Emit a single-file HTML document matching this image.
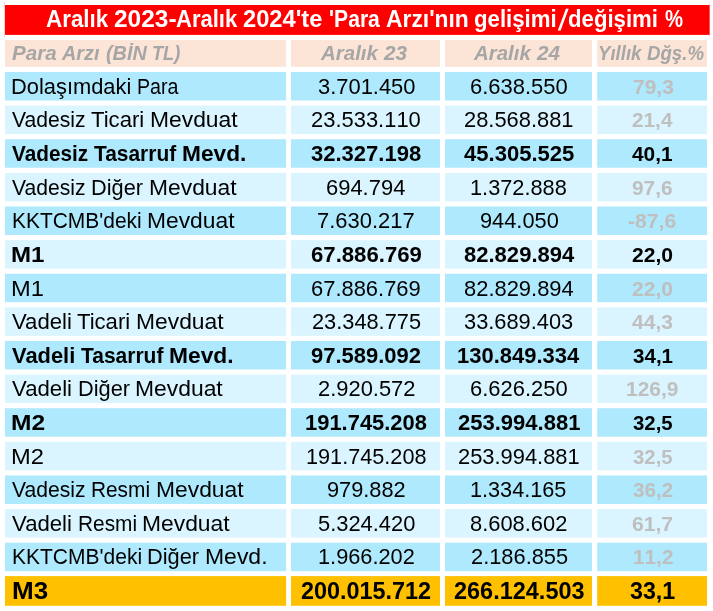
<!DOCTYPE html>
<html lang="tr"><head><meta charset="utf-8"><title>Para Arzı</title>
<style>
html,body{margin:0;padding:0;background:#fff;}
body{width:713px;height:611px;position:relative;overflow:hidden;font-family:"Liberation Sans",sans-serif;color:#000;}
svg{position:absolute;left:0;top:0;}
.t{position:absolute;white-space:pre;line-height:1;transform-origin:0 0;}
.b{font-weight:bold;}
.i{font-style:italic;}
.n{font-kerning:none;}
</style></head><body>

<svg width="713" height="611" viewBox="0 0 713 611">
<rect x="5.0" y="5.00" width="704.60" height="29.90" fill="#ff0000"/>
<rect x="5.0" y="40.00" width="281.10" height="26.80" fill="#fce4d6"/>
<rect x="291.0" y="40.00" width="149.00" height="26.80" fill="#fce4d6"/>
<rect x="445.0" y="40.00" width="147.00" height="26.80" fill="#fce4d6"/>
<rect x="597.2" y="40.00" width="109.80" height="26.80" fill="#fce4d6"/>
<rect x="5.0" y="72.00" width="281.10" height="28.50" fill="#aee9fd"/>
<rect x="291.0" y="72.00" width="149.00" height="28.50" fill="#aee9fd"/>
<rect x="445.0" y="72.00" width="147.00" height="28.50" fill="#aee9fd"/>
<rect x="597.2" y="72.00" width="109.80" height="28.50" fill="#aee9fd"/>
<rect x="5.0" y="105.62" width="281.10" height="28.50" fill="#daf5ff"/>
<rect x="291.0" y="105.62" width="149.00" height="28.50" fill="#daf5ff"/>
<rect x="445.0" y="105.62" width="147.00" height="28.50" fill="#daf5ff"/>
<rect x="597.2" y="105.62" width="109.80" height="28.50" fill="#daf5ff"/>
<rect x="5.0" y="139.24" width="281.10" height="28.50" fill="#aee9fd"/>
<rect x="291.0" y="139.24" width="149.00" height="28.50" fill="#aee9fd"/>
<rect x="445.0" y="139.24" width="147.00" height="28.50" fill="#aee9fd"/>
<rect x="597.2" y="139.24" width="109.80" height="28.50" fill="#aee9fd"/>
<rect x="5.0" y="172.86" width="281.10" height="28.50" fill="#daf5ff"/>
<rect x="291.0" y="172.86" width="149.00" height="28.50" fill="#daf5ff"/>
<rect x="445.0" y="172.86" width="147.00" height="28.50" fill="#daf5ff"/>
<rect x="597.2" y="172.86" width="109.80" height="28.50" fill="#daf5ff"/>
<rect x="5.0" y="206.48" width="281.10" height="28.50" fill="#aee9fd"/>
<rect x="291.0" y="206.48" width="149.00" height="28.50" fill="#aee9fd"/>
<rect x="445.0" y="206.48" width="147.00" height="28.50" fill="#aee9fd"/>
<rect x="597.2" y="206.48" width="109.80" height="28.50" fill="#aee9fd"/>
<rect x="5.0" y="240.10" width="281.10" height="28.50" fill="#daf5ff"/>
<rect x="291.0" y="240.10" width="149.00" height="28.50" fill="#daf5ff"/>
<rect x="445.0" y="240.10" width="147.00" height="28.50" fill="#daf5ff"/>
<rect x="597.2" y="240.10" width="109.80" height="28.50" fill="#daf5ff"/>
<rect x="5.0" y="273.72" width="281.10" height="28.50" fill="#aee9fd"/>
<rect x="291.0" y="273.72" width="149.00" height="28.50" fill="#aee9fd"/>
<rect x="445.0" y="273.72" width="147.00" height="28.50" fill="#aee9fd"/>
<rect x="597.2" y="273.72" width="109.80" height="28.50" fill="#aee9fd"/>
<rect x="5.0" y="307.34" width="281.10" height="28.50" fill="#daf5ff"/>
<rect x="291.0" y="307.34" width="149.00" height="28.50" fill="#daf5ff"/>
<rect x="445.0" y="307.34" width="147.00" height="28.50" fill="#daf5ff"/>
<rect x="597.2" y="307.34" width="109.80" height="28.50" fill="#daf5ff"/>
<rect x="5.0" y="340.96" width="281.10" height="28.50" fill="#aee9fd"/>
<rect x="291.0" y="340.96" width="149.00" height="28.50" fill="#aee9fd"/>
<rect x="445.0" y="340.96" width="147.00" height="28.50" fill="#aee9fd"/>
<rect x="597.2" y="340.96" width="109.80" height="28.50" fill="#aee9fd"/>
<rect x="5.0" y="374.58" width="281.10" height="28.50" fill="#daf5ff"/>
<rect x="291.0" y="374.58" width="149.00" height="28.50" fill="#daf5ff"/>
<rect x="445.0" y="374.58" width="147.00" height="28.50" fill="#daf5ff"/>
<rect x="597.2" y="374.58" width="109.80" height="28.50" fill="#daf5ff"/>
<rect x="5.0" y="408.20" width="281.10" height="28.50" fill="#aee9fd"/>
<rect x="291.0" y="408.20" width="149.00" height="28.50" fill="#aee9fd"/>
<rect x="445.0" y="408.20" width="147.00" height="28.50" fill="#aee9fd"/>
<rect x="597.2" y="408.20" width="109.80" height="28.50" fill="#aee9fd"/>
<rect x="5.0" y="441.82" width="281.10" height="28.50" fill="#daf5ff"/>
<rect x="291.0" y="441.82" width="149.00" height="28.50" fill="#daf5ff"/>
<rect x="445.0" y="441.82" width="147.00" height="28.50" fill="#daf5ff"/>
<rect x="597.2" y="441.82" width="109.80" height="28.50" fill="#daf5ff"/>
<rect x="5.0" y="475.44" width="281.10" height="28.50" fill="#aee9fd"/>
<rect x="291.0" y="475.44" width="149.00" height="28.50" fill="#aee9fd"/>
<rect x="445.0" y="475.44" width="147.00" height="28.50" fill="#aee9fd"/>
<rect x="597.2" y="475.44" width="109.80" height="28.50" fill="#aee9fd"/>
<rect x="5.0" y="509.06" width="281.10" height="28.50" fill="#daf5ff"/>
<rect x="291.0" y="509.06" width="149.00" height="28.50" fill="#daf5ff"/>
<rect x="445.0" y="509.06" width="147.00" height="28.50" fill="#daf5ff"/>
<rect x="597.2" y="509.06" width="109.80" height="28.50" fill="#daf5ff"/>
<rect x="5.0" y="542.68" width="281.10" height="28.50" fill="#aee9fd"/>
<rect x="291.0" y="542.68" width="149.00" height="28.50" fill="#aee9fd"/>
<rect x="445.0" y="542.68" width="147.00" height="28.50" fill="#aee9fd"/>
<rect x="597.2" y="542.68" width="109.80" height="28.50" fill="#aee9fd"/>
<rect x="5.0" y="576.10" width="281.10" height="29.70" fill="#ffc000"/>
<rect x="291.0" y="576.10" width="149.00" height="29.70" fill="#ffc000"/>
<rect x="445.0" y="576.10" width="147.00" height="29.70" fill="#ffc000"/>
<rect x="597.2" y="576.10" width="109.80" height="29.70" fill="#ffc000"/>
<rect x="4.3" y="2" width="0.6" height="35.5" fill="#ff0000" fill-opacity="0.3"/><rect x="709.5" y="2" width="0.5" height="35.5" fill="#ff0000" fill-opacity="0.25"/>
</svg>
<span class="t b" style="left:45.99px;top:8px;font-size:23.0px;color:#fff;transform:scaleX(0.9741)">Aralık </span>
<span class="t b" style="left:114.35px;top:8px;font-size:23.0px;color:#fff;transform:scaleX(1.0645)">2023-</span>
<span class="t b" style="left:175.60px;top:8px;font-size:23.0px;color:#fff;transform:scaleX(0.9567)">Aralık </span>
<span class="t b" style="left:243.47px;top:8px;font-size:23.0px;color:#fff;transform:scaleX(1.0290)">2024'te </span>
<span class="t b" style="left:329.17px;top:8px;font-size:23.0px;color:#fff;transform:scaleX(0.9194)">'Para </span>
<span class="t b" style="left:386.18px;top:8px;font-size:23.0px;color:#fff;transform:scaleX(0.9929)">Arzı'nın </span>
<span class="t b" style="left:474.18px;top:8px;font-size:23.0px;color:#fff;transform:scaleX(0.9655)">gelişimi</span>
<span class="t b" style="left:562.8px;top:6px;font-size:23px;color:#fff;transform:skewX(-12.4deg) scaleY(1.28)">/</span>
<span class="t b" style="left:568.39px;top:8px;font-size:23.0px;color:#fff;transform:scaleX(0.9642)">değişimi </span>
<span class="t b" style="left:665.08px;top:8px;font-size:23.0px;color:#fff;transform:scaleX(0.8829)">%</span>
<span class="t b i" style="left:11.91px;top:43px;font-size:20.5px;color:#a6a6a6;transform:scaleX(1.0031)">Para </span>
<span class="t b i" style="left:61.58px;top:43px;font-size:20.5px;color:#a6a6a6;transform:scaleX(0.9697)">Arzı </span>
<span class="t b i" style="left:105.63px;top:43px;font-size:20.5px;color:#a6a6a6;transform:scaleX(0.9661)">(BİN </span>
<span class="t b i" style="left:152.06px;top:43px;font-size:20.5px;color:#a6a6a6;transform:scaleX(0.8868)">TL)</span>
<span class="t b i" style="left:320.95px;top:43px;font-size:20.5px;color:#a6a6a6;transform:scaleX(0.9987)">Aralık </span>
<span class="t b i" style="left:384.20px;top:43px;font-size:20.5px;color:#a6a6a6;transform:scaleX(1.0117)">23</span>
<span class="t b i" style="left:473.95px;top:43px;font-size:20.5px;color:#a6a6a6;transform:scaleX(0.9958)">Aralık </span>
<span class="t b i" style="left:537.02px;top:43px;font-size:20.5px;color:#a6a6a6;transform:scaleX(1.0098)">24</span>
<span class="t b i" style="left:597.73px;top:43px;font-size:20.5px;color:#a6a6a6;transform:scaleX(0.9067)">Yıllık </span>
<span class="t b i" style="left:646.86px;top:43px;font-size:20.5px;color:#a6a6a6;transform:scaleX(0.9092)">Dğş.%</span>
<span class="t" style="left:11.40px;top:77px;font-size:21.5px;color:#000;transform:scaleX(1.0171)">Dolaşımdaki </span>
<span class="t" style="left:137.21px;top:77px;font-size:21.5px;color:#000;transform:scaleX(0.9141)">Para</span>
<span class="t n" style="left:317.52px;top:77px;font-size:21.5px;color:#000;transform:scaleX(1.0188)">3.701.450</span>
<span class="t n" style="left:470.18px;top:77px;font-size:21.5px;color:#000;transform:scaleX(1.0214)">6.638.550</span>
<span class="t b n" style="left:632.59px;top:77px;font-size:20.5px;color:#bfbfbf;transform:scaleX(1.0245)">79,3</span>
<span class="t" style="left:12.43px;top:110px;font-size:21.5px;color:#000;transform:scaleX(0.9820)">Vadesiz </span>
<span class="t" style="left:90.90px;top:110px;font-size:21.5px;color:#000;transform:scaleX(1.0280)">Ticari </span>
<span class="t" style="left:149.54px;top:110px;font-size:21.5px;color:#000;transform:scaleX(1.0625)">Mevduat</span>
<span class="t n" style="left:310.89px;top:110px;font-size:21.5px;color:#000;transform:scaleX(1.0204)">23.533.110</span>
<span class="t n" style="left:464.29px;top:110px;font-size:21.5px;color:#000;transform:scaleX(1.0176)">28.568.881</span>
<span class="t b n" style="left:632.07px;top:110px;font-size:20.5px;color:#bfbfbf;transform:scaleX(1.0138)">21,4</span>
<span class="t b" style="left:12.39px;top:144px;font-size:21.5px;color:#000;transform:scaleX(0.9654)">Vadesiz </span>
<span class="t b" style="left:93.92px;top:144px;font-size:21.5px;color:#000;transform:scaleX(0.9729)">Tasarruf </span>
<span class="t b" style="left:181.80px;top:144px;font-size:21.5px;color:#000;transform:scaleX(1.0568)">Mevd.</span>
<span class="t b n" style="left:310.87px;top:144px;font-size:21.5px;color:#000;transform:scaleX(1.0245)">32.327.198</span>
<span class="t b n" style="left:463.56px;top:144px;font-size:21.5px;color:#000;transform:scaleX(1.0259)">45.305.525</span>
<span class="t b n" style="left:632.44px;top:144px;font-size:20.5px;color:#000;transform:scaleX(1.0172)">40,1</span>
<span class="t" style="left:12.43px;top:178px;font-size:21.5px;color:#000;transform:scaleX(0.9813)">Vadesiz </span>
<span class="t" style="left:90.91px;top:178px;font-size:21.5px;color:#000;transform:scaleX(1.0121)">Diğer </span>
<span class="t" style="left:148.60px;top:178px;font-size:21.5px;color:#000;transform:scaleX(1.0618)">Mevduat</span>
<span class="t n" style="left:326.40px;top:178px;font-size:21.5px;color:#000;transform:scaleX(1.0209)">694.794</span>
<span class="t n" style="left:470.25px;top:178px;font-size:21.5px;color:#000;transform:scaleX(1.0121)">1.372.888</span>
<span class="t b n" style="left:632.38px;top:178px;font-size:20.5px;color:#bfbfbf;transform:scaleX(1.0144)">97,6</span>
<span class="t" style="left:11.98px;top:211px;font-size:21.5px;color:#000;transform:scaleX(0.9742)">KKTCMB'deki </span>
<span class="t" style="left:147.18px;top:211px;font-size:21.5px;color:#000;transform:scaleX(1.0607)">Mevduat</span>
<span class="t n" style="left:317.48px;top:211px;font-size:21.5px;color:#000;transform:scaleX(1.0207)">7.630.217</span>
<span class="t n" style="left:479.53px;top:211px;font-size:21.5px;color:#000;transform:scaleX(1.0136)">944.050</span>
<span class="t b n" style="left:628.48px;top:211px;font-size:20.5px;color:#bfbfbf;transform:scaleX(1.0316)">-87,6</span>
<span class="t b" style="left:10.99px;top:245px;font-size:21.5px;color:#000;transform:scaleX(1.1199)">M1</span>
<span class="t b n" style="left:310.89px;top:245px;font-size:21.5px;color:#000;transform:scaleX(1.0301)">67.886.769</span>
<span class="t b n" style="left:463.60px;top:245px;font-size:21.5px;color:#000;transform:scaleX(1.0246)">82.829.894</span>
<span class="t b n" style="left:632.12px;top:245px;font-size:20.5px;color:#000;transform:scaleX(1.0300)">22,0</span>
<span class="t" style="left:11.25px;top:279px;font-size:21.5px;color:#000;transform:scaleX(1.1007)">M1</span>
<span class="t n" style="left:311.41px;top:279px;font-size:21.5px;color:#000;transform:scaleX(1.0197)">67.886.769</span>
<span class="t n" style="left:464.00px;top:279px;font-size:21.5px;color:#000;transform:scaleX(1.0196)">82.829.894</span>
<span class="t b n" style="left:632.12px;top:279px;font-size:20.5px;color:#bfbfbf;transform:scaleX(1.0300)">22,0</span>
<span class="t" style="left:12.42px;top:312px;font-size:21.5px;color:#000;transform:scaleX(1.0294)">Vadeli </span>
<span class="t" style="left:77.42px;top:312px;font-size:21.5px;color:#000;transform:scaleX(1.0273)">Ticari </span>
<span class="t" style="left:136.00px;top:312px;font-size:21.5px;color:#000;transform:scaleX(1.0618)">Mevduat</span>
<span class="t n" style="left:311.73px;top:312px;font-size:21.5px;color:#000;transform:scaleX(1.0129)">23.348.775</span>
<span class="t n" style="left:464.45px;top:312px;font-size:21.5px;color:#000;transform:scaleX(1.0150)">33.689.403</span>
<span class="t b n" style="left:632.33px;top:312px;font-size:20.5px;color:#bfbfbf;transform:scaleX(1.0273)">44,3</span>
<span class="t b" style="left:12.38px;top:346px;font-size:21.5px;color:#000;transform:scaleX(1.0172)">Vadeli </span>
<span class="t b" style="left:80.70px;top:346px;font-size:21.5px;color:#000;transform:scaleX(0.9762)">Tasarruf </span>
<span class="t b" style="left:168.89px;top:346px;font-size:21.5px;color:#000;transform:scaleX(1.0603)">Mevd.</span>
<span class="t b n" style="left:311.36px;top:346px;font-size:21.5px;color:#000;transform:scaleX(1.0224)">97.589.092</span>
<span class="t b n" style="left:457.29px;top:346px;font-size:21.5px;color:#000;transform:scaleX(1.0216)">130.849.334</span>
<span class="t b n" style="left:632.61px;top:346px;font-size:20.5px;color:#000;transform:scaleX(1.0035)">34,1</span>
<span class="t" style="left:12.42px;top:379px;font-size:21.5px;color:#000;transform:scaleX(1.0312)">Vadeli </span>
<span class="t" style="left:77.59px;top:379px;font-size:21.5px;color:#000;transform:scaleX(1.0138)">Diğer </span>
<span class="t" style="left:135.35px;top:379px;font-size:21.5px;color:#000;transform:scaleX(1.0636)">Mevduat</span>
<span class="t n" style="left:317.58px;top:379px;font-size:21.5px;color:#000;transform:scaleX(1.0187)">2.920.572</span>
<span class="t n" style="left:470.08px;top:379px;font-size:21.5px;color:#000;transform:scaleX(1.0203)">6.626.250</span>
<span class="t b n" style="left:626.18px;top:379px;font-size:20.5px;color:#bfbfbf;transform:scaleX(1.0201)">126,9</span>
<span class="t b" style="left:10.96px;top:413px;font-size:21.5px;color:#000;transform:scaleX(1.1414)">M2</span>
<span class="t b n" style="left:305.41px;top:413px;font-size:21.5px;color:#000;transform:scaleX(1.0200)">191.745.208</span>
<span class="t b n" style="left:457.73px;top:413px;font-size:21.5px;color:#000;transform:scaleX(1.0235)">253.994.881</span>
<span class="t b n" style="left:632.77px;top:413px;font-size:20.5px;color:#000;transform:scaleX(0.9956)">32,5</span>
<span class="t" style="left:11.25px;top:447px;font-size:21.5px;color:#000;transform:scaleX(1.1019)">M2</span>
<span class="t n" style="left:306.15px;top:447px;font-size:21.5px;color:#000;transform:scaleX(1.0077)">191.745.208</span>
<span class="t n" style="left:458.14px;top:447px;font-size:21.5px;color:#000;transform:scaleX(1.0175)">253.994.881</span>
<span class="t b n" style="left:632.77px;top:447px;font-size:20.5px;color:#bfbfbf;transform:scaleX(0.9956)">32,5</span>
<span class="t" style="left:12.43px;top:480px;font-size:21.5px;color:#000;transform:scaleX(0.9815)">Vadesiz </span>
<span class="t" style="left:91.09px;top:480px;font-size:21.5px;color:#000;transform:scaleX(0.9685)">Resmi </span>
<span class="t" style="left:155.58px;top:480px;font-size:21.5px;color:#000;transform:scaleX(1.0620)">Mevduat</span>
<span class="t n" style="left:327.03px;top:480px;font-size:21.5px;color:#000;transform:scaleX(1.0117)">979.882</span>
<span class="t n" style="left:470.49px;top:480px;font-size:21.5px;color:#000;transform:scaleX(1.0067)">1.334.165</span>
<span class="t b n" style="left:632.57px;top:480px;font-size:20.5px;color:#bfbfbf;transform:scaleX(1.0117)">36,2</span>
<span class="t" style="left:12.42px;top:514px;font-size:21.5px;color:#000;transform:scaleX(1.0302)">Vadeli </span>
<span class="t" style="left:77.70px;top:514px;font-size:21.5px;color:#000;transform:scaleX(0.9691)">Resmi </span>
<span class="t" style="left:142.23px;top:514px;font-size:21.5px;color:#000;transform:scaleX(1.0626)">Mevduat</span>
<span class="t n" style="left:317.60px;top:514px;font-size:21.5px;color:#000;transform:scaleX(1.0176)">5.324.420</span>
<span class="t n" style="left:470.37px;top:514px;font-size:21.5px;color:#000;transform:scaleX(1.0183)">8.608.602</span>
<span class="t b n" style="left:632.14px;top:514px;font-size:20.5px;color:#bfbfbf;transform:scaleX(1.0296)">61,7</span>
<span class="t" style="left:11.97px;top:547px;font-size:21.5px;color:#000;transform:scaleX(0.9770)">KKTCMB'deki </span>
<span class="t" style="left:147.33px;top:547px;font-size:21.5px;color:#000;transform:scaleX(1.0140)">Diğer </span>
<span class="t" style="left:205.10px;top:547px;font-size:21.5px;color:#000;transform:scaleX(1.0676)">Mevd.</span>
<span class="t n" style="left:317.74px;top:547px;font-size:21.5px;color:#000;transform:scaleX(1.0116)">1.966.202</span>
<span class="t n" style="left:471.00px;top:547px;font-size:21.5px;color:#000;transform:scaleX(1.0156)">2.186.855</span>
<span class="t b n" style="left:632.78px;top:547px;font-size:20.5px;color:#bfbfbf;transform:scaleX(1.0137)">11,2</span>
<span class="t b" style="left:11.55px;top:580px;font-size:23.0px;color:#000;transform:scaleX(1.1320)">M3</span>
<span class="t b n" style="left:301.08px;top:580px;font-size:23.0px;color:#000;transform:scaleX(1.0174)">200.015.712</span>
<span class="t b n" style="left:453.58px;top:580px;font-size:23.0px;color:#000;transform:scaleX(1.0208)">266.124.503</span>
<span class="t b n" style="left:629.73px;top:580px;font-size:23.0px;color:#000;transform:scaleX(1.0096)">33,1</span>
</body></html>
